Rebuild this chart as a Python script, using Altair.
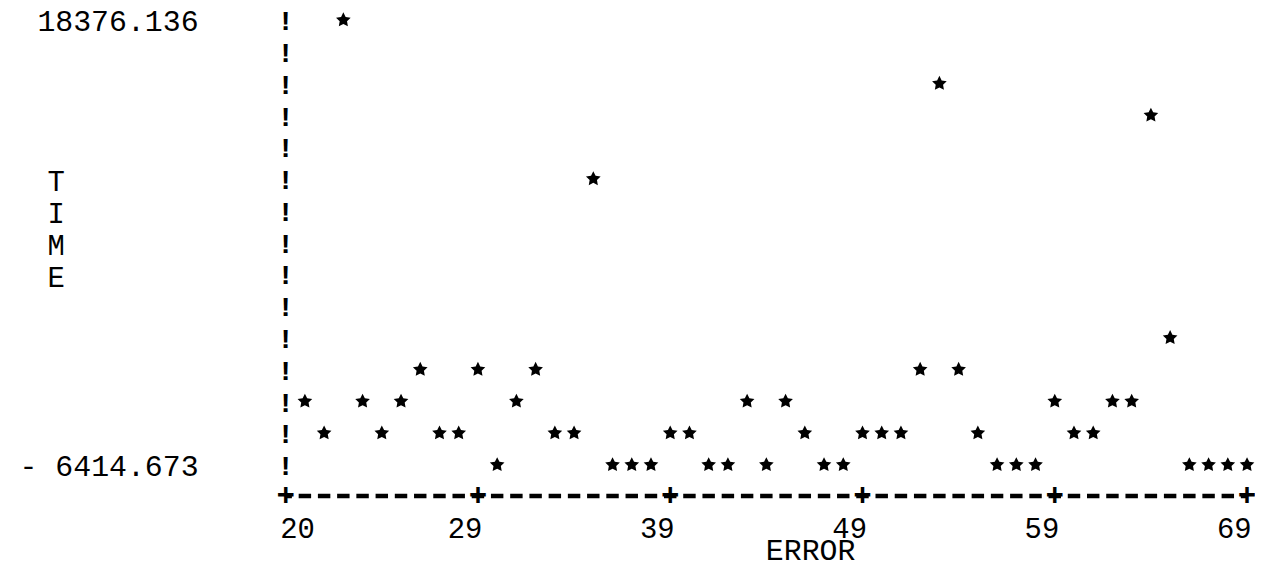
import altair as alt
import pandas as pd

# ---- axis ranges as printed on the chart ----
X_MIN, X_MAX = 20.0, 69.0
Y_MIN, Y_MAX = 6414.673, 18376.136
N_COLS = 50          # print positions along the ERROR axis
N_ROWS = 14          # print lines along the TIME axis

# ---- data (one star per print column) ----
error = [20.98, 21.96, 22.94, 23.92, 24.90, 25.88, 26.86, 27.84, 28.82, 29.80,
         30.78, 31.76, 32.74, 33.72, 34.70, 35.68, 36.66, 37.64, 38.62, 39.60,
         40.58, 41.56, 42.54, 43.52, 44.50, 45.48, 46.46, 47.44, 48.42, 49.40,
         50.38, 51.36, 52.34, 53.32, 54.30, 55.28, 56.26, 57.24, 58.22, 59.20,
         60.18, 61.16, 62.14, 63.12, 64.10, 65.08, 66.06, 67.04, 68.02, 69.00]
time = [8123.46, 7269.07, 18376.14, 8123.46, 7269.07, 8123.46, 8977.85, 7269.07, 7269.07, 8977.85,
        6414.67, 8123.46, 8977.85, 7269.07, 7269.07, 14104.19, 6414.67, 6414.67, 6414.67, 7269.07,
        7269.07, 6414.67, 6414.67, 8123.46, 6414.67, 8123.46, 7269.07, 6414.67, 6414.67, 7269.07,
        7269.07, 7269.07, 8977.85, 16667.36, 8977.85, 7269.07, 6414.67, 6414.67, 6414.67, 8123.46,
        7269.07, 7269.07, 8123.46, 8123.46, 15812.97, 9832.24, 6414.67, 6414.67, 6414.67, 6414.67]

# ---- tick labels as printed ----
x_ticks = [20.0, 29.8, 39.6, 49.4, 59.2, 69.0]
x_tick_labels = ["20", "29", "39", "49", "59", "69"]
y_ticks = [Y_MIN, Y_MAX]
y_tick_labels = ["- 6414.673", "18376.136"]
x_title = "ERROR"
y_title = ["T", "I", "M", "E"]

FONT = "Liberation Mono"

stars = pd.DataFrame({"ERROR": error, "TIME": time})

# printer-style frame: '!' down the left edge, '+' marks along the bottom
dy_row = (Y_MAX - Y_MIN) / N_ROWS
frame_left = pd.DataFrame({
    "ERROR": [X_MIN] * (N_ROWS + 1),
    "TIME": [Y_MIN + r * dy_row for r in range(N_ROWS + 1)],
    "ch": ["!"] * (N_ROWS + 1),
})
frame_plus = pd.DataFrame({
    "ERROR": x_ticks,
    "TIME": [Y_MIN - dy_row] * len(x_ticks),
    "ch": ["+"] * len(x_ticks),
})
baseline_df = pd.DataFrame({"ERROR": [X_MIN], "ERROR2": [X_MAX], "TIME": [Y_MIN - dy_row]})


def label_expr(ticks, labels):
    expr = repr(labels[-1])
    for t, lab in reversed(list(zip(ticks[:-1], labels[:-1]))):
        expr = f"datum.value < {t + 1e-6} ? {lab!r} : ({expr})"
    return expr


xscale = alt.Scale(domain=[X_MIN, X_MAX], nice=False, zero=False)
yscale = alt.Scale(domain=[Y_MIN, Y_MAX], nice=False, zero=False)

x_axis = alt.Axis(
    values=x_ticks, labelExpr=label_expr(x_ticks, x_tick_labels),
    labelFont=FONT, labelFontSize=29, labelColor="black", labelLimit=0,
    labelAlign={"condition": {"test": f"datum.value < {X_MIN + 1}", "value": "left"}, "value": "right"},
    labelOffset={"condition": {"test": f"datum.value < {X_MIN + 1}", "value": -6}, "value": 4},
    labelBaseline="alphabetic", labelPadding=74, labelFlush=False, labelOverlap=False,
    ticks=False, tickSize=0, domain=False, grid=False,
    title=x_title, titleFont=FONT, titleFontSize=30, titleFontWeight="normal", titleColor="black",
    titleX=527, titleY=96, titleAlign="center", titleBaseline="alphabetic", titleAngle=0,
)
y_axis = alt.Axis(
    values=y_ticks, labelExpr=label_expr(y_ticks, y_tick_labels),
    labelFont=FONT, labelFontSize=30, labelColor="black", labelLimit=0,
    labelAlign="right", labelBaseline="alphabetic", labelOffset=11, labelPadding=88,
    labelFlush=False, labelOverlap=False,
    ticks=False, tickSize=0, domain=False, grid=False,
    title=y_title, titleFont=FONT, titleFontSize=29, titleFontWeight="normal", titleColor="black",
    titleX=-231, titleY=172, titleAlign="center", titleBaseline="alphabetic", titleAngle=0,
    titleLineHeight=32.3,
)

STAR = ("M0,-0.905 L0.294,-0.31 L0.951,-0.214 L0.476,0.25 L0.588,0.904 "
        "L0,0.595 L-0.588,0.904 L-0.476,0.25 L-0.951,-0.214 L-0.294,-0.31 Z")

points = alt.Chart(stars).mark_point(
    shape=STAR, filled=True, color="black", size=240, opacity=1, strokeWidth=0
).encode(
    x=alt.X("ERROR:Q", scale=xscale, axis=x_axis),
    y=alt.Y("TIME:Q", scale=yscale, axis=y_axis),
)

# dashed printer line along the bottom (one dash per print column)
dashes = alt.Chart(baseline_df).mark_rule(
    color="black", strokeWidth=4.5, strokeDash=[12.5, 6.82], strokeDashOffset=6.25
).encode(
    x=alt.X("ERROR:Q", scale=xscale),
    x2="ERROR2:Q",
    y=alt.Y("TIME:Q", scale=yscale),
)

bang_text = alt.Chart(frame_left).mark_text(
    font=FONT, fontSize=28, fontWeight="bold", color="black",
    align="center", baseline="alphabetic", dy=11,
).encode(
    x=alt.X("ERROR:Q", scale=xscale),
    y=alt.Y("TIME:Q", scale=yscale),
    text="ch:N",
)

plus_text = alt.Chart(frame_plus).mark_text(
    font=FONT, fontSize=31, fontWeight="bold", color="black",
    align="center", baseline="middle", dy=0,
).encode(
    x=alt.X("ERROR:Q", scale=xscale),
    y=alt.Y("TIME:Q", scale=yscale),
    text="ch:N",
)

chart = alt.layer(points, dashes, bang_text, plus_text).properties(
    width=966, height=447,
    autosize=alt.AutoSizeParams(type="none"),
    padding={"left": 279, "top": 10, "right": 8, "bottom": 104},
    background="white",
).configure_view(stroke=None)

chart.save("out.html", embed_options={"renderer": "svg", "actions": False})
